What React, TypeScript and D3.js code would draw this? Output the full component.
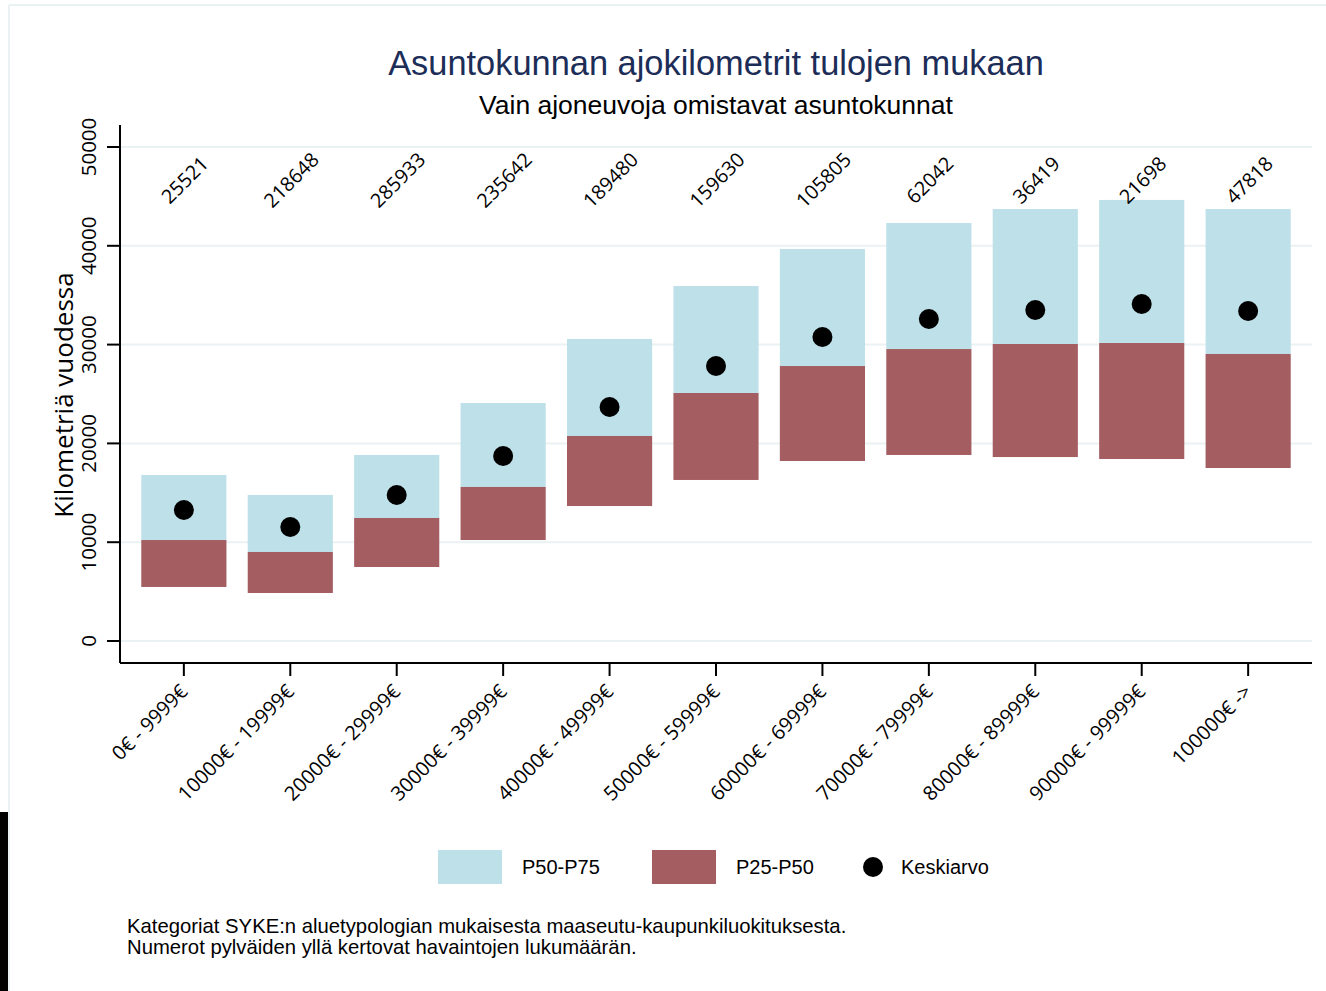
import React from "react";
import * as d3 from "d3";

// income classes
const categories = [
  "0€ - 9999€",
  "10000€ - 19999€",
  "20000€ - 29999€",
  "30000€ - 39999€",
  "40000€ - 49999€",
  "50000€ - 59999€",
  "60000€ - 69999€",
  "70000€ - 79999€",
  "80000€ - 89999€",
  "90000€ - 99999€",
  "100000€ ->",
];
const counts = [25521, 218648, 285933, 235642, 189480, 159630, 105805, 62042, 36419, 21698, 47818];
const p25 = [5470, 4860, 7490, 10220, 13660, 16300, 18220, 18830, 18620, 18420, 17510];
const p50 = [10220, 9010, 12450, 15590, 20750, 25100, 27830, 29550, 30060, 30160, 29050];
const p75 = [16800, 14780, 18830, 24090, 30570, 35930, 39680, 42310, 43720, 44640, 43720];
const means = [13260, 11540, 14780, 18720, 23680, 27830, 30770, 32590, 33500, 34110, 33400];
const yTicks = [0, 10000, 20000, 30000, 40000, 50000];

const W = 1326;
const H = 991;
const left = 120, right = 1312, top = 125, bottom = 663;
const blue = "#bde0e9";
const red = "#a45d61";
const grid = "#eaf2f3";
const sans = "'Liberation Sans', Arial, sans-serif";
const axisFont = "'Open Sans', sans-serif";

export default function App() {
  const x = d3.scalePoint<string>().domain(categories).range([left, right]).padding(0.6);
  const y = d3.scaleLinear().domain([0, 50000]).range([641, 147]);
  const bw = x.step() * 0.8;

  return (
    <svg width={W} height={H} style={{ position: "absolute", left: 0, top: 0, background: "#fff" }}>
      {/* outer frame */}
      <rect x={0} y={0} width={W} height={H} fill="#fff" />
      <line x1={9} x2={W} y1={5} y2={5} stroke={grid} strokeWidth={2} />
      <line x1={9} x2={9} y1={5} y2={H} stroke={grid} strokeWidth={2} />
      <rect x={0} y={812} width={8} height={H - 812} fill="#000" />

      {/* titles */}
      <text x={716} y={75} textAnchor="middle" fontFamily={sans} fontSize={34.4} fill="#1c2d58">
        Asuntokunnan ajokilometrit tulojen mukaan
      </text>
      <text x={716} y={114} textAnchor="middle" fontFamily={sans} fontSize={26.5} fill="#000">
        Vain ajoneuvoja omistavat asuntokunnat
      </text>

      {/* grid */}
      {yTicks.map((t) => (
        <line key={t} x1={left} x2={right} y1={y(t)} y2={y(t)} stroke={grid} strokeWidth={2} />
      ))}

      {/* bars */}
      {categories.map((c, i) => (
        <g key={c}>
          <rect x={x(c)! - bw / 2} y={y(p75[i])} width={bw} height={y(p50[i]) - y(p75[i])} fill={blue} />
          <rect x={x(c)! - bw / 2} y={y(p50[i])} width={bw} height={y(p25[i]) - y(p50[i])} fill={red} />
          <circle cx={x(c)} cy={y(means[i])} r={10} fill="#000" />
          <text
            transform={`translate(${x(c)! + 6},${185}) rotate(-45)`}
            textAnchor="middle"
            fontFamily={axisFont}
            fontSize={19.8}
            fill="#000"
          >
            {counts[i]}
          </text>
        </g>
      ))}

      {/* y axis */}
      <line x1={left} x2={left} y1={top} y2={bottom} stroke="#000" strokeWidth={2} />
      {yTicks.map((t) => (
        <g key={t}>
          <line x1={107} x2={left} y1={y(t)} y2={y(t)} stroke="#000" strokeWidth={2} />
          <text
            transform={`translate(${96},${y(t)}) rotate(-90)`}
            textAnchor="middle"
            fontFamily={axisFont}
            fontSize={20.5}
            fill="#000"
          >
            {t}
          </text>
        </g>
      ))}
      <text
        transform={`translate(${73},${395}) rotate(-90)`}
        textAnchor="middle"
        fontFamily={axisFont}
        fontSize={26}
        fill="#000"
      >
        Kilometriä vuodessa
      </text>

      {/* x axis */}
      <line x1={left} x2={right} y1={bottom} y2={bottom} stroke="#000" strokeWidth={2} />
      {categories.map((c) => (
        <g key={c}>
          <line x1={x(c)} x2={x(c)} y1={bottom} y2={676} stroke="#000" strokeWidth={2} />
          <text
            transform={`translate(${x(c)! + 5},${693}) rotate(-45)`}
            textAnchor="end"
            fontFamily={axisFont}
            fontSize={20}
            fill="#000"
          >
            {c}
          </text>
        </g>
      ))}

      {/* legend */}
      <rect x={438} y={850} width={64} height={34} fill={blue} />
      <text x={522} y={874} fontFamily={sans} fontSize={20} fill="#000">P50-P75</text>
      <rect x={652} y={850} width={64} height={34} fill={red} />
      <text x={736} y={874} fontFamily={sans} fontSize={20} fill="#000">P25-P50</text>
      <circle cx={873} cy={867} r={10} fill="#000" />
      <text x={901} y={874} fontFamily={sans} fontSize={20} fill="#000">Keskiarvo</text>

      {/* note */}
      <text x={127} y={933} fontFamily={sans} fontSize={20.3} fill="#000">
        Kategoriat SYKE:n aluetypologian mukaisesta maaseutu-kaupunkiluokituksesta.
      </text>
      <text x={127} y={954} fontFamily={sans} fontSize={20.3} fill="#000">
        Numerot pylväiden yllä kertovat havaintojen lukumäärän.
      </text>
    </svg>
  );
}
